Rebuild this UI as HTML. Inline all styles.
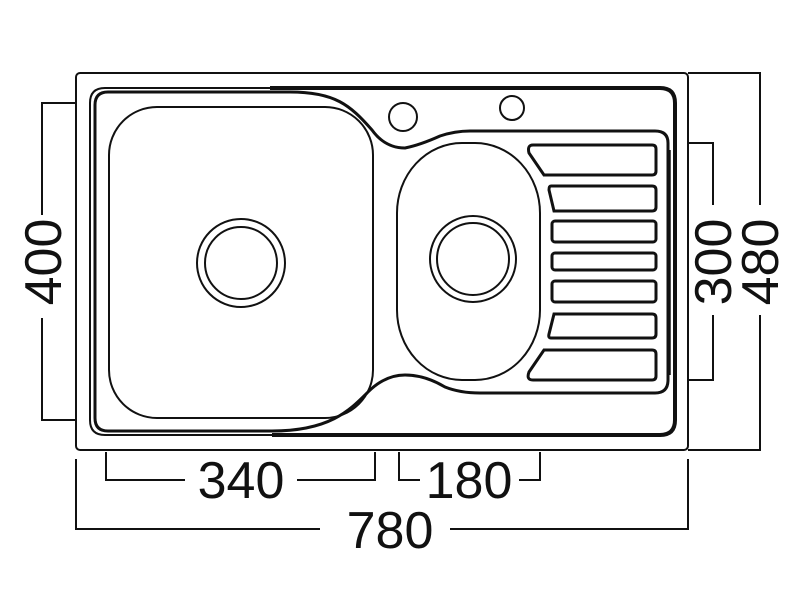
<!DOCTYPE html>
<html><head><style>html,body{margin:0;padding:0;background:#fff}svg{display:block}</style></head>
<body>
<svg width="800" height="600" viewBox="0 0 800 600" xmlns="http://www.w3.org/2000/svg" fill="none" stroke="#111" stroke-width="2">
<rect x="76" y="73" width="612" height="377" rx="4"/>
<path d="M105 88 H660 Q675 88 675 103 V420 Q675 435 660 435 H105 Q90 435 90 420 V103 Q90 88 105 88 Z"/>
<path d="M270 88 H660 Q675 88 675 103 V420 Q675 435 660 435 H272" stroke-width="4"/>
<path d="M270 92 H108 Q95 92 95 105 V418 Q95 431 108 431 H272 C330 431 350 410 368 392 Q385 375 405 375 Q425 375 445 387 Q460 393 480 393 H655 Q668 393 668 380 V143 Q668 131 655 131 H470 Q455 131 440 136 Q420 145 405 148 Q385 148 372 130 C350 105 335 92 290 92 H270" stroke-width="3"/>
<line x1="670" y1="150" x2="670" y2="375" stroke-width="1.5"/>
<rect x="109" y="107" width="264" height="311" rx="48"/>
<circle cx="241" cy="263" r="44"/>
<circle cx="241" cy="263" r="36"/>
<rect x="397" y="143" width="143" height="237" rx="65" ry="70"/>
<circle cx="473" cy="259" r="43"/>
<circle cx="473" cy="259" r="36"/>
<circle cx="403" cy="117" r="14"/>
<circle cx="512" cy="108" r="12"/>
<g stroke-width="3">
<path d="M533 145 H652 Q656 145 656 149 V171 Q656 175 652 175 H544 L529 153 Q527 145 533 145 Z"/>
<path d="M551 186 H652 Q656 186 656 190 V207 Q656 211 652 211 H554 L549 190 Q549 186 551 186 Z"/>
<rect x="552" y="221" width="104" height="21" rx="3"/>
<rect x="552" y="253" width="104" height="17" rx="3"/>
<rect x="552" y="281" width="104" height="21" rx="3"/>
<path d="M554 314 H652 Q656 314 656 318 V334 Q656 338 652 338 H551 Q548 338 549 334 Z"/>
<path d="M544 350 H652 Q656 350 656 354 V376 Q656 380 652 380 H533 Q526 380 529 372 Z"/>
</g>
<g stroke-width="2">
<polyline points="76,103 42,103 42,215"/>
<polyline points="42,318 42,420 76,420"/>
<polyline points="688,143 713,143 713,205"/>
<polyline points="713,315 713,380 688,380"/>
<polyline points="688,73 760,73 760,205"/>
<polyline points="760,315 760,450 688,450"/>
<polyline points="106,452 106,480 185,480"/>
<polyline points="297,480 375,480 375,452"/>
<polyline points="399,452 399,480 420,480"/>
<polyline points="519,480 540,480 540,452"/>
<polyline points="76,459 76,529 320,529"/>
<polyline points="450,529 688,529 688,459"/>
</g>
<g fill="#111" stroke="none" font-family="Liberation Sans, sans-serif" font-size="52" text-anchor="middle">
<text x="241" y="498">340</text>
<text x="469" y="498">180</text>
<text x="390" y="548">780</text>
<text transform="translate(61 262) rotate(-90)">400</text>
<text transform="translate(731 262) rotate(-90)">300</text>
<text transform="translate(778 262) rotate(-90)">480</text>
</g>
</svg>
</body></html>
